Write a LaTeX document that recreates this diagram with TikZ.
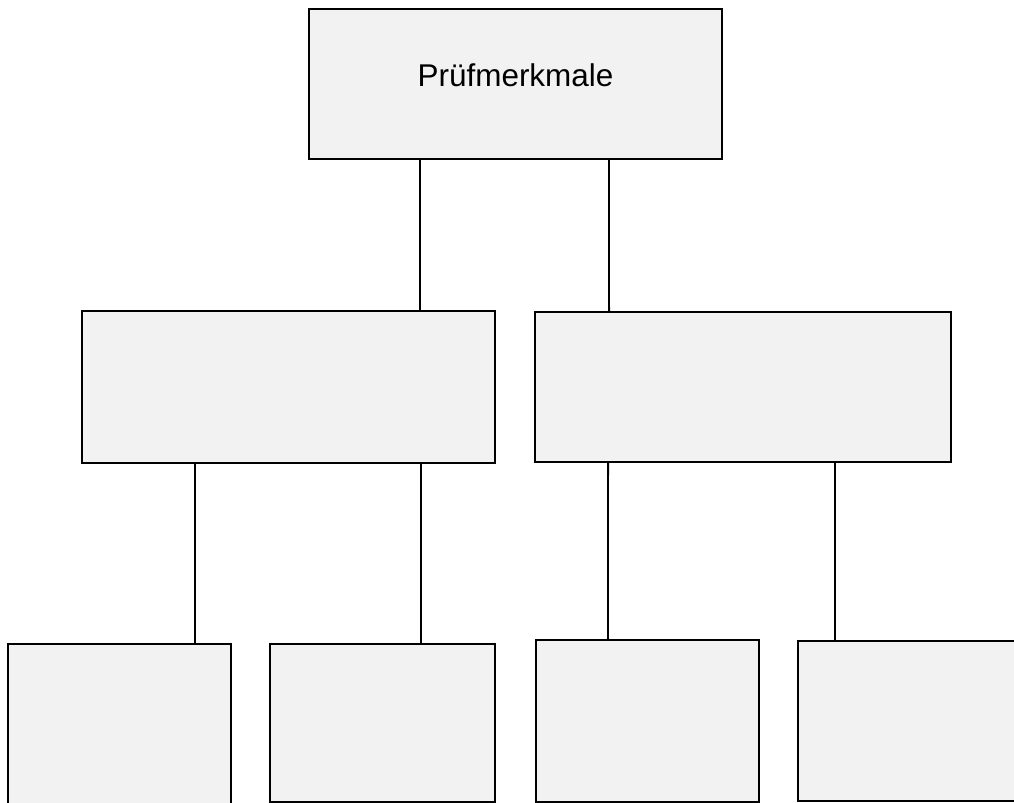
\documentclass[tikz,border=0pt]{standalone}
\usepackage{fontspec}
\setmainfont{Liberation Sans}
\definecolor{boxfill}{HTML}{F2F2F2}

\begin{document}
\begin{tikzpicture}[x=0.02cm, y=-0.02cm,
    box/.style={draw, fill=boxfill, line width=1.1pt, rectangle, inner sep=0pt, outer sep=0pt},
    link/.style={line width=1.1pt}]
    \useasboundingbox (0,0) rectangle (1014,803);
    \clip (0,0) rectangle (1014,803);

    \node[box, minimum width=413*0.02cm, minimum height=150*0.02cm] (top) at (515.5, 84) {};
    \node[box, minimum width=412.5*0.02cm, minimum height=152.5*0.02cm] (mleft) at (288.3, 387) {};
    \node[box, minimum width=416*0.02cm, minimum height=150*0.02cm] (mright) at (743, 387) {};

    \node[box, minimum width=223*0.02cm, minimum height=162*0.02cm] (b1) at (119.8, 725) {};
    \node[box, minimum width=225*0.02cm, minimum height=158*0.02cm] (b2) at (382.8, 723) {};
    \node[box, minimum width=223*0.02cm, minimum height=161.7*0.02cm] (b3) at (647.5, 720.8) {};
    \node[box, minimum width=232.3*0.02cm, minimum height=160.5*0.02cm] (b4) at (913.8, 721.2) {};

    \node[font=\fontsize{17.9}{21}\selectfont] (title) at ([yshift=0.17cm]top.center) {Prüfmerkmale};

    \draw[link] ([xshift=-1.91cm]top.south) -- ([xshift=2.634cm]mleft.north);
    \draw[link] ([xshift=1.87cm]top.south) -- ([xshift=-2.68cm]mright.north);

    \draw[link] ([xshift=-1.866cm]mleft.south) -- ([xshift=1.504cm]b1.north);
    \draw[link] ([xshift=2.654cm]mleft.south) -- ([xshift=0.764cm]b2.north);
    \draw[link] ([xshift=-2.7cm]mright.south) -- ([xshift=-0.79cm]b3.north);
    \draw[link] ([xshift=1.84cm]mright.south) -- ([xshift=-1.576cm]b4.north);
\end{tikzpicture}
\end{document}
